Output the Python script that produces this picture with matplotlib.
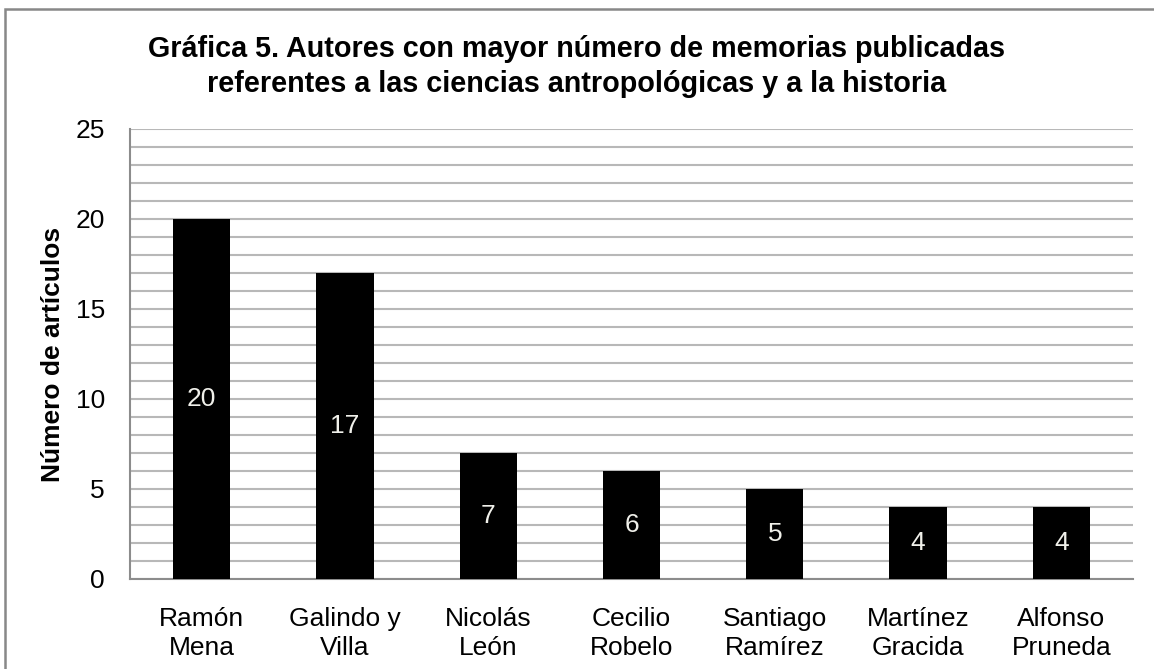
import matplotlib.pyplot as plt
from matplotlib.patches import Rectangle
from matplotlib.ticker import MultipleLocator

autores = ['Ramón\nMena', 'Galindo y\nVilla', 'Nicolás\nLeón', 'Cecilio\nRobelo',
           'Santiago\nRamírez', 'Martínez\nGracida', 'Alfonso\nPruneda']
articulos = [20, 17, 7, 6, 5, 4, 4]
titulo = ['Gráfica 5. Autores con mayor número de memorias publicadas',
          'referentes a las ciencias antropológicas y a la historia']

plt.rcParams['font.family'] = ['Liberation Sans', 'DejaVu Sans']

fig = plt.figure(figsize=(11.54, 6.69), dpi=100)
ax = fig.add_axes([130 / 1154, 1 - 579 / 669, (1133 - 130) / 1154, (579 - 129) / 669])

pos = range(len(autores))
barras = ax.bar(pos, articulos, width=0.4, color='black', zorder=3)
for b, v in zip(barras, articulos):
    ax.text(b.get_x() + b.get_width() / 2, v / 2, str(v), ha='center', va='center',
            color='#f0f0ea', fontsize=19, zorder=4)

ax.set_xlim(-0.5, len(autores) - 0.5)
ax.set_ylim(0, 25)
ax.yaxis.set_major_locator(MultipleLocator(5))
ax.yaxis.set_minor_locator(MultipleLocator(1))
ax.grid(axis='y', which='both', color='#b8b8b8', linewidth=1.5, zorder=0,
        solid_capstyle='butt')
ax.set_xticks(list(pos))
ax.set_xticklabels(autores, fontsize=19, linespacing=1.3)
ax.tick_params(axis='both', which='both', length=0, labelsize=19)
ax.tick_params(axis='x', pad=20)
ax.tick_params(axis='y', pad=18)
for s in ['top', 'right']:
    ax.spines[s].set_visible(False)
for s in ['left', 'bottom']:
    ax.spines[s].set_color('#8c8c8c')
    ax.spines[s].set_linewidth(1.5)
ax.set_ylabel('Número de artículos', fontsize=19, fontweight='bold')
ax.yaxis.set_label_coords(-65 / 1003, 0.5)

for i, linea in enumerate(titulo):
    fig.text(0.5, 1 - (57 + 35 * i) / 669, linea, ha='center', va='baseline',
             fontsize=20.7, fontweight='bold')

fig.patches.append(Rectangle((5 / 1154, -0.05), 1.1, 1.05 - 9 / 669,
                             transform=fig.transFigure, fill=False,
                             edgecolor='#888888', linewidth=1.8))

fig.savefig('out.png', dpi=100)
